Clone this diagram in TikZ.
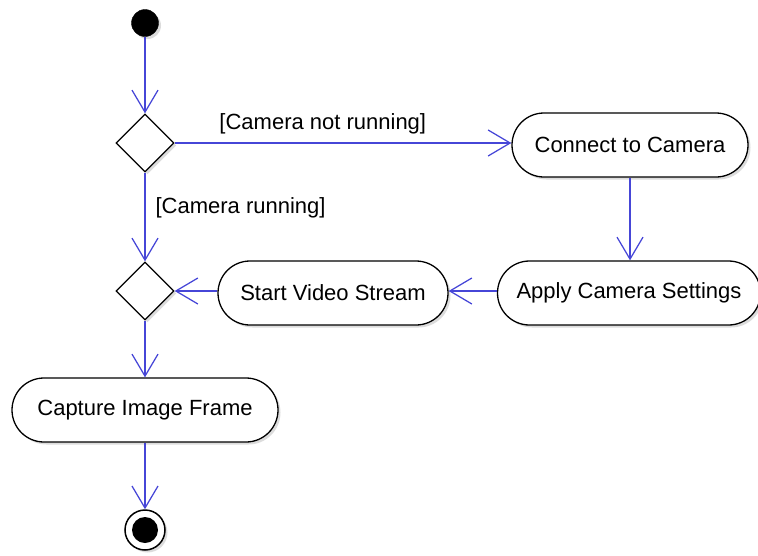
\documentclass[tikz,border=0pt]{standalone}
\usepackage{fontspec}
\setmainfont{Liberation Sans}
\usetikzlibrary{arrows.meta,shapes.geometric,shapes.misc,shadows}
\definecolor{flowblue}{RGB}{70,70,215}
\tikzset{
  softshadow/.style={drop shadow={shadow xshift=2.5pt,shadow yshift=-2.5pt,fill=black!30,opacity=0.45}},
  action/.style={rounded rectangle,draw=black,line width=1.3pt,fill=white,softshadow,
    minimum height=64pt,inner sep=0pt,font=\fontsize{22}{26}\selectfont},
  decision/.style={diamond,draw=black,line width=1.3pt,fill=white,softshadow,
    minimum width=58pt,minimum height=58pt,inner sep=0pt},
  flow/.style={draw=flowblue,line width=1.25pt,
    -{Straight Barb[length=22pt,width=26pt,line width=1.25pt]}},
  guard/.style={font=\fontsize{22}{26}\selectfont,inner sep=0pt}
}
\begin{document}
\begin{tikzpicture}[x=1pt,y=-1pt]
  \useasboundingbox (0,0) rectangle (758,555);

  % initial and final states
  \node[circle,fill=black,draw=black,minimum size=27pt,inner sep=0pt,softshadow] (init) at (145,23) {};
  \node[circle,fill=white,draw=black,line width=1.5pt,minimum size=40pt,inner sep=0pt,softshadow] (final) at (145,530) {};
  \node[circle,fill=black,minimum size=26pt,inner sep=0pt] (finaldot) at (final.center) {};

  % decisions
  \node[decision] (check) at (145,143) {};
  \node[decision] (merge) at (145,291) {};

  % actions
  \node[action,minimum width=236pt] (connect) at (630,145) {Connect to Camera};
  \node[action,minimum width=263pt] (apply)   at (629,293) {Apply Camera Settings};
  \node[action,minimum width=230pt] (stream)  at (333,293) {Start Video Stream};
  \node[action,minimum width=266pt] (capture) at (145,410) {Capture Image Frame};

  % control flow
  \draw[flow] (init) -- (check.north);
  \draw[flow] (check.east) -- (check.east -| connect.west)
    node[guard,pos=0.44,above=8pt] (notrunning) {[Camera not running]};
  \draw[flow] (check.south) -- (merge.north)
    node[guard,pos=0.40,right=10pt] (running) {[Camera running]};
  \draw[flow] (connect.south -| 630,0) -- (apply.north -| 630,0);
  \draw[flow] (apply.west |- merge) -- (stream.east |- merge);
  \draw[flow] (stream.west |- merge) -- (merge.east);
  \draw[flow] (merge.south) -- (capture.north);
  \draw[flow] (capture.south) -- (final.north);
\end{tikzpicture}
\end{document}
